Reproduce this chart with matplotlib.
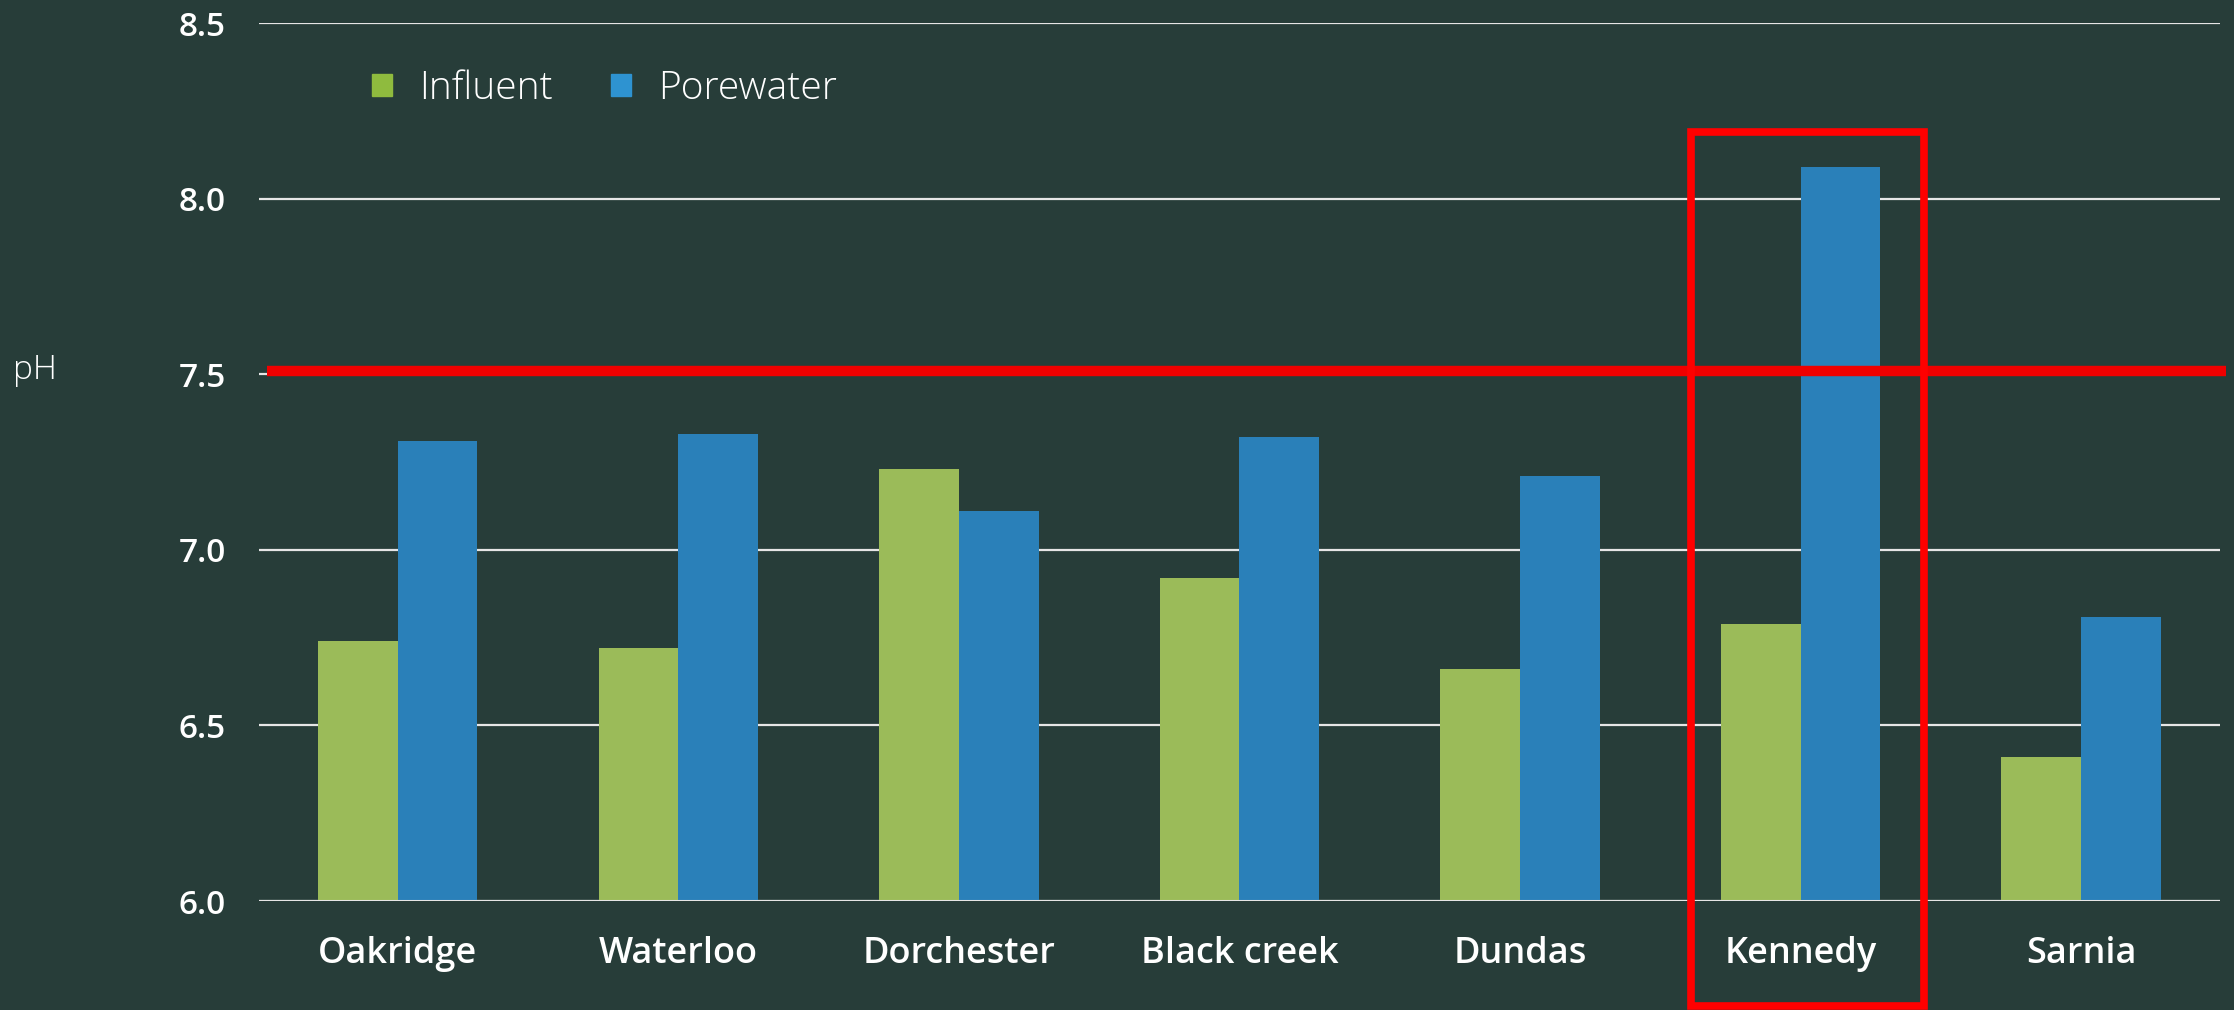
import matplotlib
matplotlib.use("Agg")
import matplotlib.pyplot as plt
import numpy as np
from matplotlib.patches import Rectangle, Patch

# --- data ---
sites = ["Oakridge", "Waterloo", "Dorchester", "Black creek", "Dundas", "Kennedy", "Sarnia"]
influent = [6.74, 6.72, 7.23, 6.92, 6.66, 6.79, 6.41]
porewater = [7.31, 7.33, 7.11, 7.32, 7.21, 8.09, 6.81]
yticks = [6.0, 6.5, 7.0, 7.5, 8.0, 8.5]
threshold = 7.51
highlight = "Kennedy"

BG = "#273d39"
GREEN = "#9bbb59"
BLUE = "#2a80b9"
FONT = ["Open Sans", "DejaVu Sans"]

fig = plt.figure(figsize=(22.34, 10.10), dpi=100, facecolor=BG)
ax = fig.add_axes([0.1159, 0.1079, 0.8778, 0.8693], facecolor=BG)

x = np.arange(len(sites))
w = 0.284
ax.bar(x - w / 2, [v - 6.0 for v in influent], w, bottom=6.0, color=GREEN, zorder=3)
ax.bar(x + w / 2, [v - 6.0 for v in porewater], w, bottom=6.0, color=BLUE, zorder=3)

ax.set_xlim(-0.495, len(sites) - 0.505)
ax.set_ylim(6.0, 8.5)
ax.set_yticks(yticks)
ax.set_yticklabels([f"{t:.1f}" for t in yticks])
ax.yaxis.grid(True, color="#e6e6e6", lw=1.6, zorder=1)
ax.set_axisbelow(True)
for s in ax.spines.values():
    s.set_visible(False)
ax.set_xticks(x)
ax.set_xticklabels(sites)
ax.tick_params(axis="both", length=0, colors="white")
ax.tick_params(axis="y", pad=24, labelsize=24)
ax.tick_params(axis="x", pad=25, labelsize=26)
for lab in ax.get_xticklabels() + ax.get_yticklabels():
    lab.set_fontfamily(FONT)
    lab.set_fontweight("semibold")

# baseline a bit heavier
ax.axhline(6.0, color="#e6e6e6", lw=2.2, zorder=4)

# threshold line
ax.axhline(threshold, xmin=0.004, xmax=1.003, color="#f00000", lw=7.5,
           zorder=5, clip_on=False, solid_capstyle="butt")

# highlight box around Kennedy
k = sites.index(highlight)
ax.add_patch(Rectangle((k - 0.39, 5.70), 0.83, 8.19 - 5.70, fill=False,
                       edgecolor="#ff0000", lw=5.5, zorder=6, clip_on=False))

fig.text(0.006, 0.633, "pH", color="white", fontsize=24, va="center",
         family=FONT, fontweight="light")

handles = [Patch(color="#8fbb3e", label="Influent"),
           Patch(color="#2e93d1", label="Porewater")]
leg = ax.legend(handles=handles, loc="center left", bbox_to_anchor=(0.04, 0.925),
                ncol=2, frameon=False, handlelength=0.5,
                handleheight=0.5, handletextpad=0.7, columnspacing=1.5,
                prop={"family": FONT, "size": 28, "weight": "light"})
for t in leg.get_texts():
    t.set_color("white")

fig.savefig("out.png", dpi=100, facecolor=BG)
